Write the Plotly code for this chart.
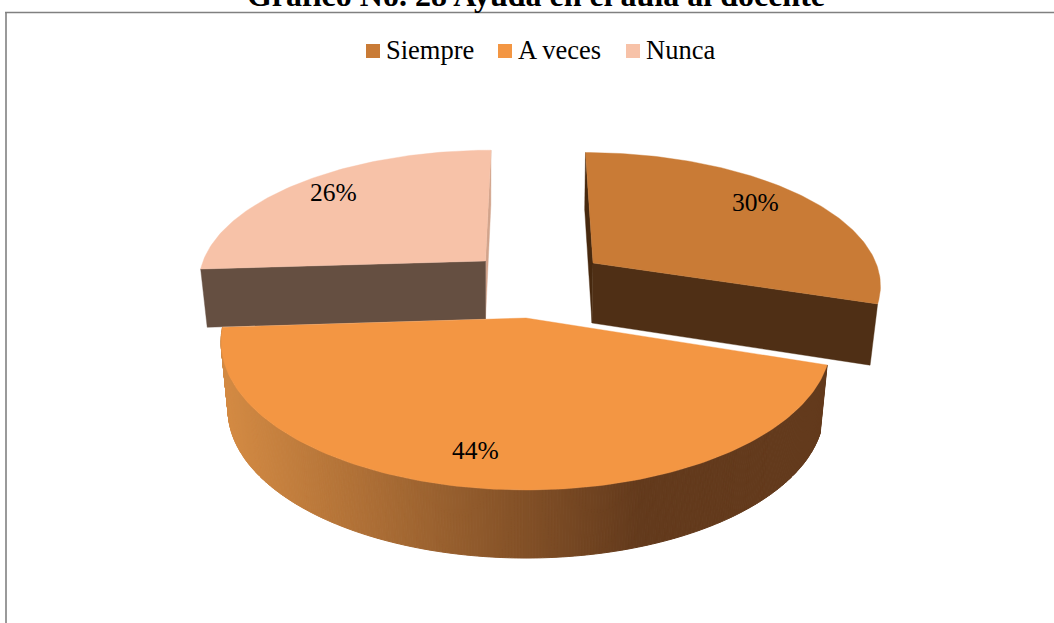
import math
import plotly.graph_objects as go

TITLE = "Gráfico No. 28 Ayuda en el aula al docente"
categories = ["Siempre", "A veces", "Nunca"]
values = [30, 44, 26]

top_color = ["#c97b36", "#f39643", "#f7c2a8"]
radial_color = ["#4f2f15", None, "#654f41"]
inner_color = ["#47290f", None, "#d2a48c"]

# projection of each exploded slice: apex, radii, shear, perspective
geom = [
    dict(ax=593, ay=263, rx=283, ry=126.6, s=8.6, k=0.146, bdx=-1, bdy=60),
    dict(ax=526, ay=318, rx=301, ry=144.5, s=0, k=0.16, bdx=0, bdy=68),
    dict(ax=485.5, ay=261, rx=282.4, ry=127, s=-6.3, k=0.146, bdx=0, bdy=58),
]
RX_BOTTOM = 0.977
RY_BOTTOM = 1.03
label_frac = [0.77, 0.81, 0.72]
label_shift = [(1, -7), (-15, -1), (-17, -10)]

total = sum(values)
edges = [0]
for v in values:
    edges.append(edges[-1] + v / total * 360)


def project(g, deg, frac=1.0, bottom=False):
    t = math.radians(deg)
    u, v = math.sin(t) * frac, -math.cos(t) * frac
    rx, ry, s = g["rx"], g["ry"], g["s"]
    ax, ay = g["ax"], g["ay"]
    if bottom:
        rx, s = rx * RX_BOTTOM, s * RX_BOTTOM
        ry = ry * RY_BOTTOM if g["bdy"] < 65 else ry
        ax, ay = ax + g["bdx"], ay + g["bdy"]
    d = 1 - g["k"] * v
    return ax + (rx * u + s * v) / d, ay + ry * v / d


def arc(g, a, b, bottom=False, step=1.0):
    n = max(2, int(abs(b - a) / step) + 1)
    return [project(g, a + (b - a) * i / (n - 1), bottom=bottom) for i in range(n)]


fig = go.Figure()


def poly(pts, color, name="", lw=0.4):
    xs = [p[0] for p in pts] + [pts[0][0]]
    ys = [p[1] for p in pts] + [pts[0][1]]
    fig.add_trace(go.Scatter(
        x=xs, y=ys, mode="lines", fill="toself", fillcolor=color,
        line=dict(color=color, width=lw), hoverinfo="skip" if not name else "name",
        name=name, showlegend=False,
    ))


def radial_face(g, deg):
    c = (g["ax"], g["ay"])
    cb = (g["ax"] + g["bdx"], g["ay"] + g["bdy"])
    return [c, project(g, deg), project(g, deg, bottom=True), cb]


# Siempre
g = geom[0]
poly(radial_face(g, edges[0]), inner_color[0])
poly(radial_face(g, edges[1]), radial_color[0])
poly([(g["ax"], g["ay"])] + arc(g, edges[0], edges[1]), top_color[0], categories[0])

# Nunca
g = geom[2]
poly(radial_face(g, edges[3]), inner_color[2])
poly(radial_face(g, edges[2]), radial_color[2])
poly([(g["ax"], g["ay"])] + arc(g, edges[2], edges[3]), top_color[2], categories[2])

# A veces: shaded rim, then top
g = geom[1]
LEFT_C, RIGHT_C = (211, 138, 67), (99, 58, 28)
X0, X1 = 225, 640
a = edges[1]
while a < edges[2]:
    b = min(a + 0.5, edges[2])
    top = [project(g, a), project(g, b)]
    bot = [project(g, a, bottom=True), project(g, b, bottom=True)]
    xm = (top[0][0] + top[1][0]) / 2
    f = min(1, max(0, (xm - X0) / (X1 - X0)))
    col = tuple(round(LEFT_C[i] + (RIGHT_C[i] - LEFT_C[i]) * f) for i in range(3))
    poly(top + bot[::-1], "rgb(%d,%d,%d)" % col, lw=1.0)
    a = b
poly([(g["ax"], g["ay"])] + arc(g, edges[1], edges[2]), top_color[1], categories[1])

annotations = []
FONT = "Liberation Serif"
for i, g in enumerate(geom):
    x, y = project(g, (edges[i] + edges[i + 1]) / 2, frac=label_frac[i])
    annotations.append(dict(
        x=x, y=y, xref="x", yref="y", text="%d%%" % values[i], showarrow=False,
        xshift=label_shift[i][0], yshift=-label_shift[i][1],
        font=dict(family=FONT, size=25.5, color="#000000"),
    ))

# legend
legend_x = [373, 505, 633]
LEGEND_Y = 51
fig.add_trace(go.Scatter(
    x=legend_x, y=[LEGEND_Y] * 3, mode="markers",
    marker=dict(symbol="square", size=14, color=top_color, line=dict(width=0)),
    hoverinfo="skip", showlegend=False,
))
for lx, name in zip(legend_x, categories):
    annotations.append(dict(
        x=lx + 10.5, y=LEGEND_Y - 1, xref="x", yref="y", xanchor="left", text=name,
        showarrow=False, font=dict(family=FONT, size=26.5, color="#000000"),
    ))

shapes = [
    dict(type="line", x0=6, x1=6, y0=12.5, y1=623, xref="x", yref="y",
         line=dict(color="#9a9a9a", width=2)),
    dict(type="line", x0=5, x1=1054, y0=12.5, y1=12.5, xref="x", yref="y",
         line=dict(color="#808080", width=1.5)),
]

fig.update_layout(
    width=1054, height=623, margin=dict(l=0, r=0, t=0, b=0),
    paper_bgcolor="white", plot_bgcolor="white", showlegend=False,
    xaxis=dict(range=[0, 1054], visible=False, fixedrange=True),
    yaxis=dict(range=[623, 0], visible=False, fixedrange=True),
    title=dict(
        text="<b>%s</b>" % TITLE, x=536 / 1054, xanchor="center", y=1 - 5.5 / 623, yanchor="bottom",
        font=dict(family=FONT, size=32, color="#000000"),
    ),
    annotations=annotations, shapes=shapes,
)
fig.write_html("out.html", config={"displayModeBar": False},
               post_script="document.body.style.margin='0';document.body.style.overflow='hidden';")
